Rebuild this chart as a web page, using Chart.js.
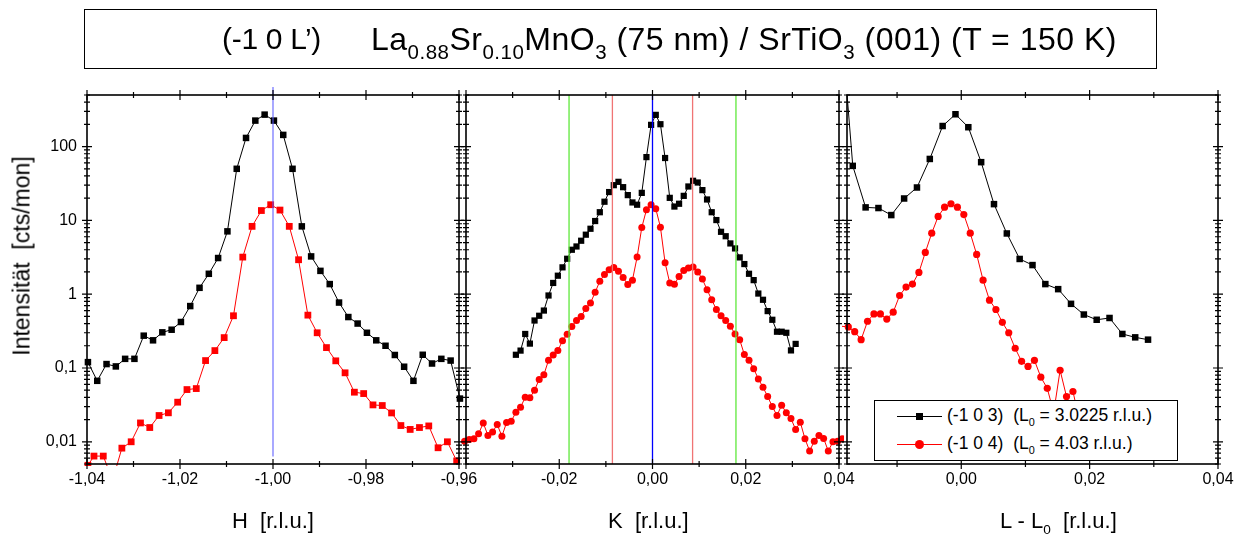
<!DOCTYPE html>
<html>
<head>
<meta charset="utf-8">
<script src="https://cdn.jsdelivr.net/npm/chart.js@4.4.1/dist/chart.umd.min.js"></script>
<style>
  body { margin: 0; background: #fff; font-family: 'Liberation Sans', Arial, sans-serif; color: #000; }
  #wrap { position: relative; width: 1246px; height: 538px; overflow: hidden; }
  canvas { position: absolute; left: 0; top: 0; }
  .txt { position: absolute; white-space: pre; line-height: 1; }
  sub { font-size: 0.62em; vertical-align: baseline; position: relative; top: 0.42em; }
  #title { position: absolute; left: 84px; top: 9px; width: 1071px; height: 58px; border: 1.5px solid #000; }
  #title .hkl { font-size: 30px; top: 14px; left: 137px; letter-spacing: -0.3px; }
  #title .film { font-size: 32px; top: 13px; left: 286px; letter-spacing: 0.5px; }
  #title .film sub { font-size: 0.64em; }
  .axtitle { font-size: 22px; top: 510px; }
  #ytitle { position: absolute; left: 22px; top: 256px; font-size: 23px; white-space: pre;
            transform: translate(-50%, -50%) rotate(-90deg); }
  #legend { position: absolute; left: 874px; top: 400px; width: 302px; height: 59px;
            border: 1.5px solid #000; background: #fff; }
  .row { position: absolute; left: 0; height: 20px; width: 100%; }
  .row .ln { position: absolute; left: 22px; width: 45px; top: 10px; height: 0; border-top: 1px solid; }
  .row .mk { position: absolute; }
  .row .lab { position: absolute; left: 72px; top: 1px; font-size: 17.5px; white-space: pre; line-height: 1; }
</style>
</head>
<body>
<div id="wrap">
  <canvas id="panelH" width="1246" height="538"></canvas>
  <canvas id="panelK" width="1246" height="538"></canvas>
  <canvas id="panelL" width="1246" height="538"></canvas>

  <div id="title">
    <span class="txt hkl">(-1 0 L’)</span>
    <span class="txt film">La<sub>0.88</sub>Sr<sub>0.10</sub>MnO<sub>3</sub> (75 nm) / SrTiO<sub>3</sub> (001) (T = 150 K)</span>
  </div>

  <div id="ytitle">Intensität  [cts/mon]</div>
  <div class="txt axtitle" style="left:232px">H  [r.l.u.]</div>
  <div class="txt axtitle" style="left:608px">K  [r.l.u.]</div>
  <div class="txt axtitle" style="left:1000px">L - L<sub>0</sub>  [r.l.u.]</div>

  <div id="legend">
    <div class="row" style="top:5px">
      <div class="ln" style="border-color:#000"></div>
      <div class="mk" style="left:41px;top:7px;width:7px;height:7px;background:#000"></div>
      <div class="lab">(-1 0 3)  (L<sub>0</sub> = 3.0225 r.l.u.)</div>
    </div>
    <div class="row" style="top:33px">
      <div class="ln" style="border-color:#f00"></div>
      <div class="mk" style="left:40px;top:6px;width:9px;height:9px;border-radius:50%;background:#f00"></div>
      <div class="lab">(-1 0 4)  (L<sub>0</sub> = 4.03 r.l.u.)</div>
    </div>
  </div>
</div>

<script>
// ---- H scan (-1 0 3) black, (-1 0 4) red ----
const hBlackX = [-1.0398, -1.0378, -1.0358, -1.0338, -1.0318, -1.0298, -1.0278, -1.0258, -1.0238, -1.0218,
                 -1.0198, -1.0178, -1.0158, -1.0138, -1.0118, -1.0098, -1.0078, -1.0058, -1.0038, -1.0018,
                 -0.9998, -0.9978, -0.9958, -0.9938, -0.9918, -0.9898, -0.9878, -0.9858, -0.9838, -0.9818,
                 -0.9798, -0.9778, -0.9758, -0.9738, -0.9718, -0.9698, -0.9678, -0.9658, -0.9638, -0.9618, -0.9598];
const hBlackY = [0.12, 0.067, 0.113, 0.105, 0.133, 0.133, 0.274, 0.237, 0.304, 0.33,
                 0.42, 0.69, 1.22, 1.89, 3.09, 7.1, 50, 131, 225, 271,
                 225, 144, 50, 8.3, 3.25, 2.07, 1.37, 0.77, 0.49, 0.40,
                 0.30, 0.237, 0.20, 0.15, 0.104, 0.067, 0.151, 0.115, 0.133, 0.126, 0.0385];
const hRedX = [-1.0398, -1.0385, -1.0365, -1.0345, -1.0325, -1.0305, -1.0285, -1.0265, -1.0245, -1.0225, -1.0205,
               -1.0185, -1.0165, -1.0145, -1.0125, -1.0105, -1.0085, -1.0065, -1.0045, -1.0025, -1.0005,
               -0.9985, -0.9965, -0.9945, -0.9925, -0.9905, -0.9885, -0.9865, -0.9845, -0.9825, -0.9805,
               -0.9785, -0.9765, -0.9745, -0.9725, -0.9705, -0.9685, -0.9665, -0.9645, -0.9625, -0.9605];
const hRedY = [0.0048, 0.0064, 0.0064, 0.003, 0.0082, 0.0100, 0.018, 0.0156, 0.0227, 0.0247, 0.0344,
               0.051, 0.0526, 0.126, 0.172, 0.258, 0.51, 3.18, 8.3, 13.6, 16.3,
               13.8, 8.3, 2.93, 0.52, 0.30, 0.189, 0.125, 0.086, 0.047, 0.045,
               0.0316, 0.031, 0.0246, 0.0166, 0.0147, 0.0156, 0.0164, 0.0083, 0.0100, 0.0055];

// ---- K scan ----
const kBlackX = [-0.0293, -0.0283, -0.0273, -0.0263, -0.0253, -0.0243, -0.0233, -0.0223, -0.0213, -0.0203,
                 -0.0193, -0.0183, -0.0173, -0.0163, -0.0153, -0.0143, -0.0133, -0.0123, -0.0113, -0.0103,
                 -0.0093, -0.0083, -0.0073, -0.0063, -0.0053, -0.0043, -0.0033, -0.0023, -0.0013, -0.0003,
                 0.0007, 0.0017, 0.0027, 0.0037, 0.0047, 0.0057, 0.0067, 0.0077, 0.0087, 0.0097,
                 0.0107, 0.0117, 0.0127, 0.0137, 0.0147, 0.0157, 0.0167, 0.0177, 0.0187, 0.0197,
                 0.0207, 0.0217, 0.0227, 0.0237, 0.0247, 0.0257, 0.0267, 0.0277, 0.0287, 0.0297, 0.0307];
const kBlackY = [0.151, 0.172, 0.289, 0.214, 0.44, 0.51, 0.60, 0.96, 1.42, 1.78,
                 2.31, 3.02, 4.0, 4.43, 5.3, 6.4, 7.7, 9.8, 12.9, 17.9,
                 24.2, 30, 33.3, 28.2, 22, 17.5, 16.3, 23.6, 72, 197,
                 269, 201, 70, 20.2, 15.4, 16.8, 21.5, 28.8, 34.4, 32.6,
                 25.7, 19.2, 12.9, 10.1, 7.0, 6.1, 4.87, 4.17, 3.15, 2.56,
                 1.89, 1.55, 1.02, 0.84, 0.59, 0.45, 0.31, 0.31, 0.30, 0.173, 0.212];
const kRedX = [-0.0403, -0.0393, -0.0383, -0.0373, -0.0363, -0.0353, -0.0343, -0.0333, -0.0323, -0.0313,
               -0.0303, -0.0293, -0.0283, -0.0273, -0.0263, -0.0253, -0.0243, -0.0233, -0.0223, -0.0213,
               -0.0203, -0.0193, -0.0183, -0.0173, -0.0163, -0.0153, -0.0143, -0.0133, -0.0123, -0.0113,
               -0.0103, -0.0093, -0.0083, -0.0073, -0.0063, -0.0053, -0.0043, -0.0033, -0.0023, -0.0013,
               -0.0003, 0.0007, 0.0017, 0.0027, 0.0037, 0.0047, 0.0057, 0.0067, 0.0077, 0.0087,
               0.0097, 0.0107, 0.0117, 0.0127, 0.0137, 0.0147, 0.0157, 0.0167, 0.0177, 0.0187,
               0.0197, 0.0207, 0.0217, 0.0227, 0.0237, 0.0247, 0.0257, 0.0267, 0.0277, 0.0287,
               0.0297, 0.0307, 0.0317, 0.0327, 0.0337, 0.0347, 0.0357, 0.0367, 0.0377, 0.0387,
               0.0397, 0.0407];
const kRedY = [0.0102, 0.0107, 0.011, 0.0128, 0.018, 0.0122, 0.0136, 0.0171, 0.0119, 0.0182,
               0.019, 0.0251, 0.0294, 0.040, 0.0394, 0.050, 0.070, 0.081, 0.127, 0.150,
               0.172, 0.234, 0.286, 0.366, 0.44, 0.50, 0.64, 0.76, 1.06, 1.5,
               1.85, 2.15, 2.3, 2.04, 1.68, 1.35, 1.55, 3.18, 8.0, 13.9,
               16.3, 14.4, 8.1, 2.67, 1.42, 1.36, 1.74, 2.1, 2.26, 2.33,
               2.0, 1.6, 1.15, 0.84, 0.62, 0.51, 0.44, 0.367, 0.289, 0.242,
               0.152, 0.127, 0.098, 0.071, 0.055, 0.041, 0.030, 0.0227, 0.0313, 0.0247,
               0.0206, 0.0147, 0.0184, 0.011, 0.0075, 0.0102, 0.0122, 0.0111, 0.0075, 0.0100,
               0.0102, 0.011];

// ---- L scan (L - L0) ----
const lBlackX = [-0.0189, -0.0169, -0.0149, -0.0129, -0.0109, -0.0089, -0.0069, -0.0049, -0.0029, -0.0009,
                 0.0011, 0.0031, 0.0051, 0.0071, 0.0091, 0.0111, 0.0131, 0.0151, 0.0171, 0.0191,
                 0.0211, 0.0231, 0.0251, 0.0271, 0.0291];
const lBlackY = [8000, 54.8, 15, 14.7, 11.8, 19.8, 27.9, 68, 190, 274,
                 183, 61.5, 16.6, 6.65, 3.0, 2.48, 1.37, 1.17, 0.74, 0.53,
                 0.45, 0.476, 0.289, 0.26, 0.242];
const lRedX = [-0.0186, -0.0176, -0.0166, -0.0156, -0.0146, -0.0136, -0.0126, -0.0116, -0.0106, -0.0096,
               -0.0086, -0.0076, -0.0066, -0.0056, -0.0046, -0.0036, -0.0026, -0.0016, -0.0006, 0.0004,
               0.0014, 0.0024, 0.0034, 0.0044, 0.0054, 0.0064, 0.0074, 0.0084, 0.0094, 0.0104,
               0.0114, 0.0124, 0.0134, 0.0144, 0.0154, 0.0164, 0.0174, 0.0184];
const lRedY = [0.367, 0.36, 0.31, 0.242, 0.43, 0.54, 0.54, 0.46, 0.57, 0.96,
               1.25, 1.37, 1.97, 3.68, 6.7, 11.3, 15.1, 16.8, 15.1, 12.0,
               6.7, 3.46, 1.55, 0.83, 0.62, 0.415, 0.30, 0.185, 0.123, 0.105,
               0.127, 0.075, 0.053, 0.025, 0.093, 0.041, 0.048, 0.02];

// vertical marker lines
const hMarkers = [-1.0];
const hMarkerSpan = [0.0063, 640];
const kMarkers = [-0.0179, -0.0086, 0, 0.0086, 0.0179];
const kMarkerSpan = [0.005, 500];

// axis ticks
const yMajor = [0.01, 0.1, 1, 10, 100];
const yLabels = ['0,01', '0,1', '1', '10', '100'];
const hMajor = [-1.04, -1.02, -1.00, -0.98, -0.96];
const hMinor = [-1.03, -1.01, -0.99, -0.97];
const hLabels = ['-1,04', '-1,02', '-1,00', '-0,98', '-0,96'];
const kMajor = [-0.04, -0.02, 0, 0.02, 0.04];
const kMinor = [-0.03, -0.01, 0.01, 0.03];
const kLabels = ['', '-0,02', '0,00', '0,02', '0,04'];
const lMajor = [0, 0.02, 0.04];
const lMinor = [-0.01, 0.01, 0.03];
const lLabels = ['0,00', '0,02', '0,04'];

const yMinor = [];
[0.001, 0.01, 0.1, 1, 10, 100].forEach(d => {
    for (let m = 2; m <= 9; m++) {
        const v = d * m;
        if (v >= 0.005 && v <= 500) yMinor.push(v);
    }
});

Chart.defaults.font.family = "'Liberation Sans', Arial, sans-serif";
Chart.defaults.color = '#000';

const TOP = 95, BOTTOM = 464;

const pts = (xs, ys) => xs.map((x, i) => ({ x: x, y: ys[i] }));

// box with crossing ticks on all four sides
const framePlugin = {
    id: 'frame',
    afterDatasetsDraw(chart, args, opts) {
        const { ctx, chartArea: a } = chart;
        const xs = chart.scales.x, ys = chart.scales.y;
        ctx.save();
        ctx.strokeStyle = '#000';
        ctx.lineWidth = 1.6;
        ctx.strokeRect(a.left, a.top, a.right - a.left, a.bottom - a.top);
        ctx.lineWidth = 1.2;
        ctx.beginPath();
        const seg = (x0, y0, x1, y1) => { ctx.moveTo(x0, y0); ctx.lineTo(x1, y1); };
        const xt = (vals, len) => vals.forEach(v => {
            const p = xs.getPixelForValue(v);
            seg(p, a.top - len, p, a.top + len);
            seg(p, a.bottom - len, p, a.bottom + len);
        });
        const yt = (vals, len) => vals.forEach(v => {
            const p = ys.getPixelForValue(v);
            seg(a.left - len, p, a.left + len, p);
            seg(a.right - len, p, a.right + len, p);
        });
        xt(opts.xMajor, 5);
        xt(opts.xMinor, 3);
        yt(yMajor, 5);
        yt(yMinor, 3);
        ctx.stroke();
        ctx.restore();
    }
};

const markerSet = (xv, span, color) => ({
    data: [{ x: xv, y: span[0] }, { x: xv, y: span[1] }],
    borderColor: color,
    borderWidth: 1.3,
    pointRadius: 0,
    clip: false
});

const seriesSet = (data, color, style, r) => ({
    data: data,
    borderColor: color,
    backgroundColor: color,
    pointBackgroundColor: color,
    pointBorderWidth: 0,
    pointStyle: style,
    pointRadius: r,
    borderWidth: 1,
    clip: { left: 5, right: 5, top: 0, bottom: 2 }
});

const makePanel = (id, cfg) => new Chart(document.getElementById(id), {
    type: 'line',
    data: { datasets: cfg.datasets },
    options: {
        responsive: false,
        animation: false,
        events: [],
        layout: { padding: { left: cfg.showY ? 0 : cfg.left, right: 1246 - cfg.right, top: TOP, bottom: 0 } },
        plugins: {
            legend: { display: false },
            tooltip: { enabled: false },
            frame: { xMajor: cfg.xMajor, xMinor: cfg.xMinor }
        },
        scales: {
            x: {
                type: 'linear',
                min: cfg.xMin,
                max: cfg.xMax,
                afterBuildTicks: s => { s.ticks = cfg.xMajor.map(v => ({ value: v })); },
                afterFit: s => { s.height = 538 - BOTTOM; },
                grid: { display: false, drawTicks: false },
                border: { display: false },
                ticks: {
                    padding: 6,
                    maxRotation: 0,
                    autoSkip: false,
                    font: { size: 16 },
                    callback: (v, i) => cfg.xLabels[i]
                }
            },
            y: {
                type: 'logarithmic',
                min: 0.005,
                max: 500,
                display: cfg.showY,
                afterBuildTicks: s => { s.ticks = yMajor.map(v => ({ value: v })); },
                afterFit: s => { s.width = cfg.showY ? cfg.left : 0; },
                grid: { display: false, drawTicks: false },
                border: { display: false },
                ticks: {
                    padding: 10,
                    autoSkip: false,
                    font: { size: 16 },
                    callback: (v, i) => yLabels[i]
                }
            }
        }
    },
    plugins: [framePlugin]
});

makePanel('panelH', {
    left: 87, right: 459, xMin: -1.04, xMax: -0.96, showY: true,
    xMajor: hMajor, xMinor: hMinor, xLabels: hLabels,
    datasets: [
        markerSet(hMarkers[0], hMarkerSpan, 'rgba(90, 90, 255, 0.8)'),
        seriesSet(pts(hBlackX, hBlackY), '#000', 'rect', 4.6),
        seriesSet(pts(hRedX, hRedY), '#ff0000', 'rect', 4.8)
    ]
});

const kColors = ['#5ee83a', '#f07474', '#0000ff', '#f07474', '#5ee83a'];
makePanel('panelK', {
    left: 466, right: 839, xMin: -0.04, xMax: 0.04, showY: false,
    xMajor: kMajor, xMinor: kMinor, xLabels: kLabels,
    datasets: kMarkers.map((k, i) => markerSet(k, kMarkerSpan, kColors[i])).concat([
        seriesSet(pts(kBlackX, kBlackY), '#000', 'rect', 4.4),
        seriesSet(pts(kRedX, kRedY), '#ff0000', 'circle', 3.5)
    ])
});

makePanel('panelL', {
    left: 847, right: 1218, xMin: -0.0178, xMax: 0.04, showY: false,
    xMajor: lMajor, xMinor: lMinor, xLabels: lLabels,
    datasets: [
        seriesSet(pts(lBlackX, lBlackY), '#000', 'rect', 4.6),
        seriesSet(pts(lRedX, lRedY), '#ff0000', 'circle', 3.6)
    ]
});
</script>
</body>
</html>
